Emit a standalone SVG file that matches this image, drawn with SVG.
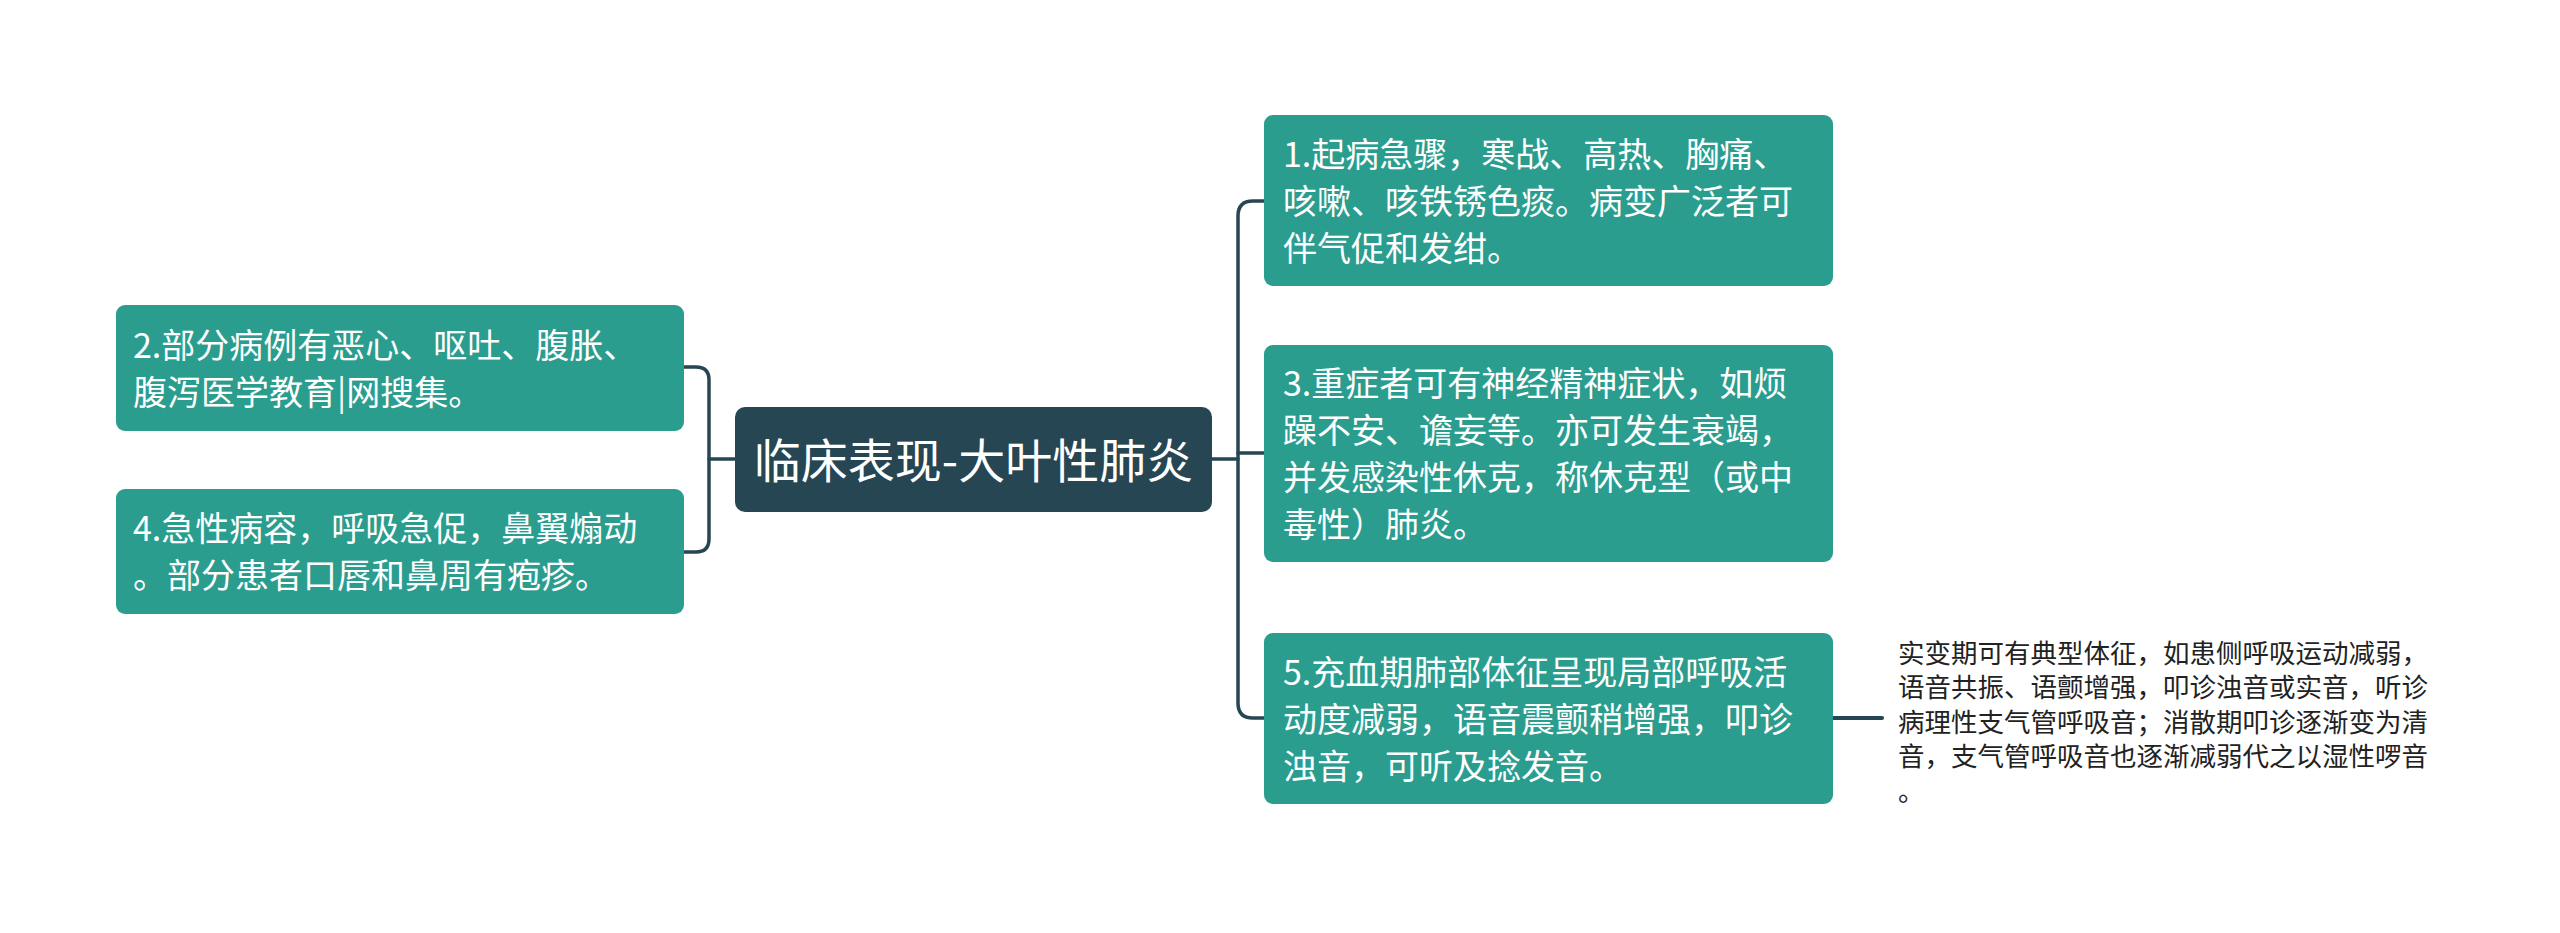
<svg xmlns="http://www.w3.org/2000/svg" width="2560" height="933" viewBox="0 0 2560 933">
<style>
.node{fill:#2a9d8f}
.root{fill:#264653}
.t{font-family:"Noto Sans CJK SC","Noto Sans",sans-serif;fill:#ffffff;font-size:34px}
.rt{font-family:"Noto Sans CJK SC","Noto Sans",sans-serif;fill:#ffffff;font-size:47px}
.lt{font-family:"Noto Sans CJK SC","Noto Sans",sans-serif;fill:#222222;font-size:26.5px}
.c{fill:none;stroke:#264653;stroke-width:3.5;stroke-linecap:round}
</style>
<rect width="2560" height="933" fill="#ffffff"/>
<g id="connectors">
<path class="c" d="M735,459 H709"/>
<path class="c" d="M684,367 H696 Q709,367 709,380 V539 Q709,552 696,552 H684"/>
<path class="c" d="M1212,459 H1238"/>
<path class="c" d="M1264,201 H1253 Q1238,201 1238,216 V703 Q1238,718 1253,718 H1264"/>
<path class="c" d="M1238,453 H1264"/>
<path class="c" d="M1833,718 H1882" style="stroke-width:4"/>
</g>
<g id="root">
<rect class="root" x="735" y="407" width="477" height="105" rx="10"/>
<text class="rt" x="973.5" y="477.5" text-anchor="middle">临床表现-大叶性肺炎</text>
</g>
<g id="n2">
<rect class="node" x="116" y="305" width="568" height="126" rx="9"/>
<text class="t" x="133" y="357.5">2.部分病例有恶心、呕吐、腹胀、</text>
<text class="t" x="133" y="404.5">腹泻医学教育|网搜集。</text>
</g>
<g id="n4">
<rect class="node" x="116" y="489" width="568" height="125" rx="9"/>
<text class="t" x="133" y="541">4.急性病容，呼吸急促，鼻翼煽动</text>
<text class="t" x="133" y="588">。部分患者口唇和鼻周有疱疹。</text>
</g>
<g id="n1">
<rect class="node" x="1264" y="115" width="569" height="171" rx="9"/>
<text class="t" x="1283" y="166.5">1.起病急骤，寒战、高热、胸痛、</text>
<text class="t" x="1283" y="213.5">咳嗽、咳铁锈色痰。病变广泛者可</text>
<text class="t" x="1283" y="260.5">伴气促和发绀。</text>
</g>
<g id="n3">
<rect class="node" x="1264" y="345" width="569" height="217" rx="9"/>
<text class="t" x="1283" y="396">3.重症者可有神经精神症状，如烦</text>
<text class="t" x="1283" y="443">躁不安、谵妄等。亦可发生衰竭，</text>
<text class="t" x="1283" y="490">并发感染性休克，称休克型（或中</text>
<text class="t" x="1283" y="537">毒性）肺炎。</text>
</g>
<g id="n5">
<rect class="node" x="1264" y="633" width="569" height="171" rx="9"/>
<text class="t" x="1283" y="684.5">5.充血期肺部体征呈现局部呼吸活</text>
<text class="t" x="1283" y="731.5">动度减弱，语音震颤稍增强，叩诊</text>
<text class="t" x="1283" y="778.5">浊音，可听及捻发音。</text>
</g>
<g id="n5a">
<text class="lt" x="1898" y="662.5">实变期可有典型体征，如患侧呼吸运动减弱，</text>
<text class="lt" x="1898" y="697">语音共振、语颤增强，叩诊浊音或实音，听诊</text>
<text class="lt" x="1898" y="731.5">病理性支气管呼吸音；消散期叩诊逐渐变为清</text>
<text class="lt" x="1898" y="766">音，支气管呼吸音也逐渐减弱代之以湿性啰音</text>
<text class="lt" x="1898" y="800.5">。</text>
</g>
</svg>
